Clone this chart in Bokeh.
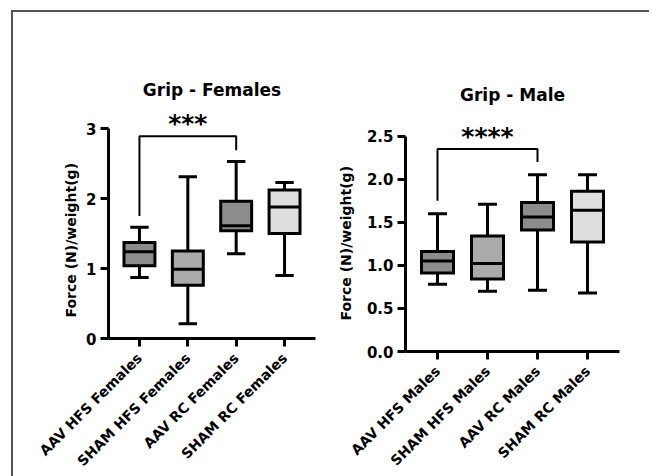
import math
from bokeh.plotting import figure
from bokeh.models import FixedTicker, ColumnDataSource, Range1d, PrintfTickFormatter, Title
from bokeh.layouts import row
from bokeh.core.properties import value
from bokeh.embed import file_html
from bokeh.resources import INLINE

# ---------------- data ----------------
fem_cats = ["AAV HFS Females", "SHAM HFS Females", "AAV RC Females", "SHAM RC Females"]
fem_min = [0.87, 0.21, 1.21, 0.90]
fem_q1 = [1.04, 0.76, 1.54, 1.50]
fem_med = [1.24, 0.99, 1.61, 1.88]
fem_q3 = [1.37, 1.25, 1.96, 2.12]
fem_max = [1.59, 2.31, 2.53, 2.23]
fem_ticks = [0, 1, 2, 3]
fem_bracket = [1.75, 2.89, 2.69]   # left leg bottom, top, right leg bottom
fem_star = "***"
fem_star_y = 3.07

male_cats = ["AAV HFS Males", "SHAM HFS Males", "AAV RC Males", "SHAM RC Males"]
male_min = [0.78, 0.70, 0.71, 0.68]
male_q1 = [0.91, 0.84, 1.41, 1.27]
male_med = [1.05, 1.02, 1.56, 1.64]
male_q3 = [1.16, 1.34, 1.73, 1.86]
male_max = [1.60, 1.71, 2.05, 2.05]
male_ticks = [0.0, 0.5, 1.0, 1.5, 2.0, 2.5]
male_bracket = [1.75, 2.35, 2.20]
male_star = "****"
male_star_y = 2.50

box_fills = ["#8c8c8c", "#ababab", "#8c8c8c", "#dedede"]

FONT = "DejaVu Sans"
YLABEL = "Force (N)/weight(g)"


def panel(title, cats, lo, q1, med, q3, hi, ticks, ymax, fmt, bracket, star, star_y,
          fw, fh, mb_left, mb_right, mb_top, mb_bottom, title_standoff,
          ylab_offset, ylab_standoff):
    n = len(cats)
    x = list(range(n))
    p = figure(frame_width=fw, frame_height=fh,
               x_range=Range1d(-0.64, n - 1 + 0.64), y_range=Range1d(0, ymax),
               output_backend="svg", toolbar_location=None,
               min_border_left=mb_left, min_border_right=mb_right,
               min_border_top=mb_top, min_border_bottom=mb_bottom)
    p.outline_line_color = None
    p.xgrid.visible = False
    p.ygrid.visible = False
    p.background_fill_color = "white"
    p.border_fill_color = "white"

    p.title.text = title
    p.title.text_font = FONT
    p.title.text_font_size = "17px"
    p.title.text_font_style = "bold"
    p.title.text_color = "black"
    p.title.align = "center"
    p.title.standoff = title_standoff

    for ax in (p.xaxis[0], p.yaxis[0]):
        ax.axis_line_width = 3
        ax.axis_line_color = "black"
        ax.major_tick_line_width = 3
        ax.major_tick_line_color = "black"
        ax.major_tick_out = 8
        ax.major_tick_in = 0
        ax.minor_tick_line_color = None
        ax.major_label_text_font = FONT
        ax.major_label_text_font_style = "bold"
        ax.major_label_text_color = "black"

    ya = p.yaxis[0]
    ya.ticker = FixedTicker(ticks=ticks)
    ya.bounds = (0, ticks[-1])
    ya.formatter = PrintfTickFormatter(format=fmt)
    ya.major_label_text_font_size = "15px"
    ya.major_label_standoff = 4

    # y-axis title, aligned to the lower part of the axis as in the original
    p.add_layout(Title(text=YLABEL, align="left", offset=ylab_offset, standoff=ylab_standoff,
                       text_font=FONT, text_font_size="14px", text_font_style="bold",
                       text_color="black"), "left")

    xa = p.xaxis[0]
    xa.ticker = FixedTicker(ticks=x)
    xa.major_label_overrides = {i: c for i, c in enumerate(cats)}
    xa.major_label_orientation = math.pi / 4
    xa.major_label_text_font_size = "14px"
    xa.major_label_standoff = 9

    src = ColumnDataSource(dict(
        x=x, lo=lo, q1=q1, med=med, q3=q3, hi=hi, fill=box_fills[:n],
        cl=[i - 0.19 for i in x], cr=[i + 0.19 for i in x],
        bl=[i - 0.32 for i in x], br=[i + 0.32 for i in x],
    ))
    p.segment(x0="x", y0="q3", x1="x", y1="hi", source=src, line_width=3, line_color="black")
    p.segment(x0="x", y0="q1", x1="x", y1="lo", source=src, line_width=3, line_color="black")
    p.segment(x0="cl", y0="hi", x1="cr", y1="hi", source=src, line_width=3, line_color="black")
    p.segment(x0="cl", y0="lo", x1="cr", y1="lo", source=src, line_width=3, line_color="black")
    p.vbar(x="x", width=0.64, bottom="q1", top="q3", source=src, fill_color="fill",
           line_color="black", line_width=3, line_join="miter")
    p.segment(x0="bl", y0="med", x1="br", y1="med", source=src, line_width=3, line_color="black")

    # significance bracket between group 0 and group 2
    p.line(x=[0, 0, 2, 2], y=[bracket[0], bracket[1], bracket[1], bracket[2]],
           line_width=2, line_color="black")
    p.text(x=[1], y=[star_y], text=[star], text_font=value(FONT), text_font_style="bold",
           text_font_size="25px", text_align="center", text_baseline="middle",
           text_color="black")
    return p


p1 = panel("Grip - Females", fem_cats, fem_min, fem_q1, fem_med, fem_q3, fem_max,
           fem_ticks, 3.286, "%d", fem_bracket, fem_star, fem_star_y,
           fw=207, fh=230, mb_left=95, mb_right=10, mb_top=96, mb_bottom=126,
           title_standoff=18, ylab_offset=21, ylab_standoff=10)
p2 = panel("Grip - Male", male_cats, male_min, male_q1, male_med, male_q3, male_max,
           male_ticks, 2.82, "%.1f", male_bracket, male_star, male_star_y,
           fw=214, fh=243, mb_left=76, mb_right=30, mb_top=96, mb_bottom=113,
           title_standoff=7, ylab_offset=31, ylab_standoff=20)

layout = row(p1, p2, styles={"border-top": "2px solid #555555",
                             "border-left": "2px solid #555555",
                             "margin-top": "10px", "margin-left": "11px"})

open("out.html", "w").write(file_html(layout, INLINE))
